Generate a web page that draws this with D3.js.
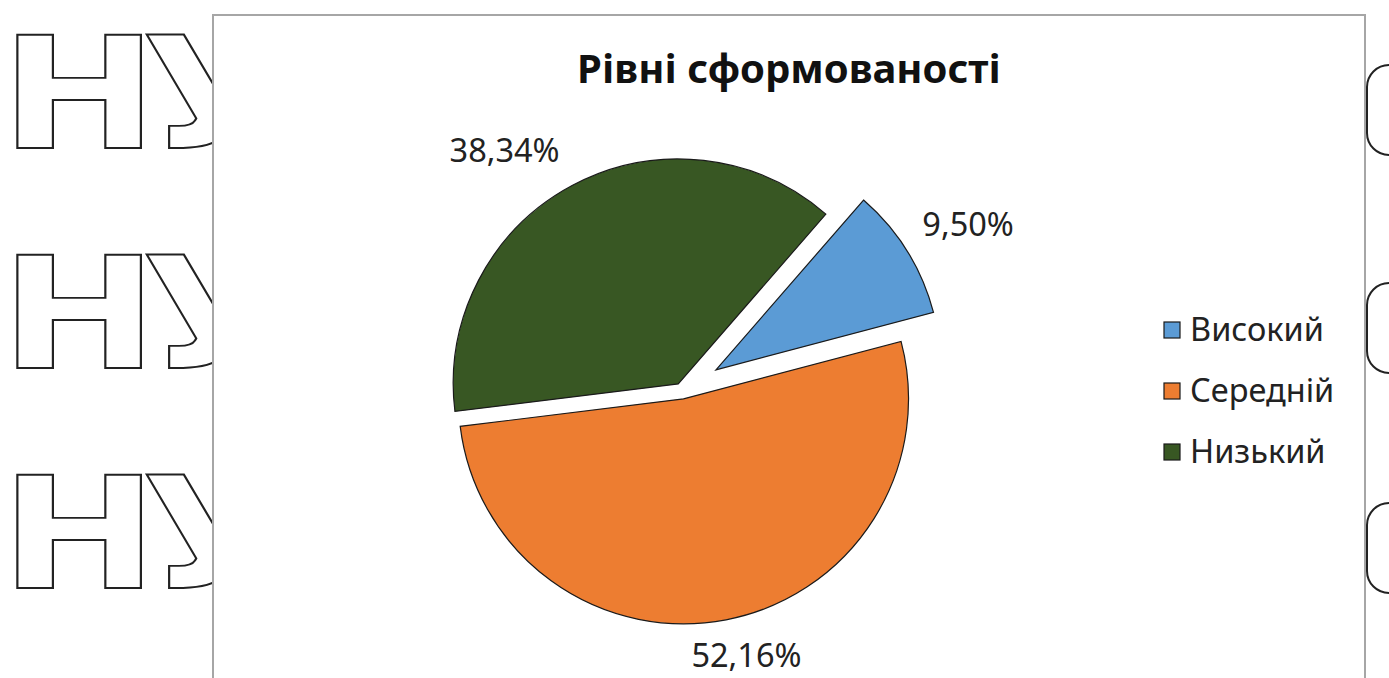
<!DOCTYPE html>
<html>
<head>
<meta charset="utf-8">
<script src="https://cdn.jsdelivr.net/npm/d3@7"></script>
<style>
  body { margin: 0; background: #fff; }
  svg { display: block; }
</style>
</head>
<body>
<div id="chart"></div>
<script>
// дані
var categories = ['Високий', 'Середній', 'Низький'];
var values = [9.50, 52.16, 38.34];
var valueLabels = ['9,50%', '52,16%', '38,34%'];
var colors = ['#5b9bd5', '#ed7d31', '#385723'];
var title = 'Рівні сформованості';

var width = 1389;
var height = 678;

var svg = d3.select('#chart')
    .append('svg')
    .attr('width', width)
    .attr('height', height);

// водяний знак зліва і справа (фон документа)
var wm = svg.append('g');
[148, 368, 588].forEach(function (y) {
    wm.append('text')
        .attr('transform', 'translate(0,' + y + ') scale(1.22,1)')
        .attr('font-family', 'DejaVu Sans')
        .attr('font-weight', 'bold')
        .attr('font-size', 155)
        .attr('letter-spacing', -14)
        .attr('fill', '#fff')
        .attr('stroke', '#222')
        .attr('stroke-width', 1.8)
        .text('НУБ');
});
[65, 283, 503].forEach(function (y) {
    wm.append('rect')
        .attr('x', 1367)
        .attr('y', y)
        .attr('width', 90)
        .attr('height', 90)
        .attr('rx', 22)
        .attr('fill', '#fff')
        .attr('stroke', '#222')
        .attr('stroke-width', 2);
});

// рамка діаграми
svg.append('rect')
    .attr('x', 213)
    .attr('y', 15)
    .attr('width', 1152)
    .attr('height', 700)
    .attr('fill', '#fff')
    .attr('stroke', '#a6a6a6')
    .attr('stroke-width', 2);

svg.append('text')
    .attr('x', 789)
    .attr('y', 83)
    .attr('text-anchor', 'middle')
    .attr('font-family', 'Noto Sans')
    .attr('font-weight', 'bold')
    .attr('font-size', 40)
    .attr('fill', '#111')
    .text(title);

// пиріг
var cx = 682, cy = 391;
var radius = 225;
var explode = [40, 8, 8];
var startDeg = 41;

var pie = d3.pie()
    .sort(null)
    .startAngle(startDeg * Math.PI / 180)
    .endAngle(startDeg * Math.PI / 180 + 2 * Math.PI);

var arc = d3.arc().innerRadius(0).outerRadius(radius);

var arcs = pie(values);

function offset(d, i) {
    var a = (d.startAngle + d.endAngle) / 2;
    return [cx + explode[i] * Math.sin(a), cy - explode[i] * Math.cos(a)];
}

svg.append('g')
    .selectAll('path')
    .data(arcs)
    .enter()
    .append('path')
    .attr('transform', function (d, i) {
        var o = offset(d, i);
        return 'translate(' + o[0] + ',' + o[1] + ')';
    })
    .attr('d', arc)
    .attr('fill', function (d, i) { return colors[i]; })
    .attr('stroke', '#1a1a1a')
    .attr('stroke-width', 1.2);

// підписи значень (за межами сектора, як "найкраще розміщення")
var labelGap = 24;
var labels = svg.append('g')
    .selectAll('text')
    .data(arcs)
    .enter()
    .append('text')
    .attr('font-family', 'Noto Sans')
    .attr('font-size', 32.5)
    .attr('fill', '#222')
    .attr('text-anchor', 'middle')
    .text(function (d, i) { return valueLabels[i]; });

labels.each(function (d, i) {
    var bb = this.getBBox();
    var a = (d.startAngle + d.endAngle) / 2;
    var o = offset(d, i);
    var r = radius + labelGap;
    var px = o[0] + r * Math.sin(a);
    var py = o[1] - r * Math.cos(a);
    var sx = Math.max(-1, Math.min(1, Math.sin(a) * 2));
    var sy = Math.max(-1, Math.min(1, -Math.cos(a) * 2));
    d3.select(this)
        .attr('x', px + sx * bb.width / 2 - 5)
        .attr('y', py + sy * 13 + 11);
});

// легенда
var legend = svg.append('g')
    .selectAll('g')
    .data(categories)
    .enter()
    .append('g')
    .attr('transform', function (d, i) { return 'translate(1164,' + (330 + i * 61) + ')'; });

legend.append('rect')
    .attr('x', 0)
    .attr('y', -8)
    .attr('width', 16)
    .attr('height', 16)
    .attr('fill', function (d, i) { return colors[i]; })
    .attr('stroke', '#1a1a1a')
    .attr('stroke-width', 1.2);

legend.append('text')
    .attr('x', 26)
    .attr('y', 11)
    .attr('font-family', 'Noto Sans')
    .attr('font-size', 32.5)
    .attr('fill', '#222')
    .text(function (d) { return d; });
</script>
</body>
</html>
